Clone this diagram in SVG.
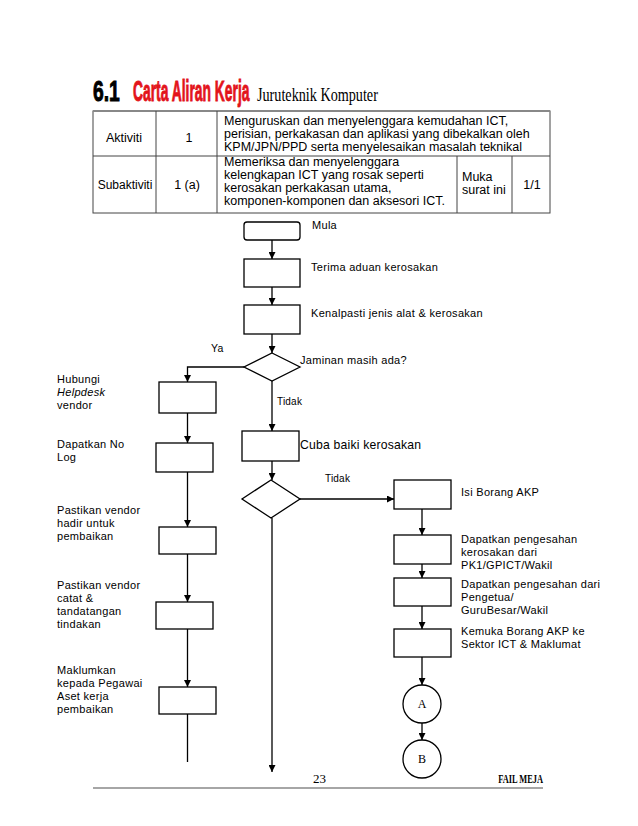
<svg xmlns="http://www.w3.org/2000/svg" width="638" height="826" viewBox="0 0 638 826">
<defs>
<marker id="ah" viewBox="0 0 8 8" refX="8" refY="4" markerWidth="7" markerHeight="7" markerUnits="userSpaceOnUse" orient="auto">
<path d="M0,0 L8,4 L0,8 z" fill="#000"/>
</marker>
<style>
.box{fill:#fff;stroke:#000;stroke-width:1.3}
.ln{fill:none;stroke:#000;stroke-width:1.3}
.arr{fill:none;stroke:#000;stroke-width:1.3;marker-end:url(#ah)}
.t{font-family:"Liberation Sans",Arial,sans-serif;font-size:11px;letter-spacing:0.3px;fill:#000}
.tb{font-family:"Liberation Sans",Arial,sans-serif;font-size:12.5px;fill:#000}
.tbl{fill:none;stroke:#444;stroke-width:1}
.ser{font-family:"Liberation Serif","Times New Roman",serif;fill:#000}
.hd{font-family:"Liberation Sans",Arial,sans-serif;font-weight:bold;font-size:28px;stroke-width:0.9px}
</style>
</defs>
<rect width="638" height="826" fill="#fff"/>

<g id="title">
<text transform="translate(93,101) scale(0.69,1.05)" class="hd" fill="#000" stroke="#000">6.1</text>
<text transform="translate(133,101) scale(0.495,1.05)" class="hd" fill="#e3141b" stroke="#e3141b">Carta Aliran Kerja</text>
<text transform="translate(257,101) scale(0.747,1)" class="ser" font-size="19">Juruteknik Komputer</text>
</g>

<g id="table">
<rect x="93" y="111" width="457" height="102" class="tbl"/>
<line x1="93" y1="111" x2="550" y2="111" stroke="#888" stroke-width="2"/>
<line x1="93" y1="156" x2="550" y2="156" class="tbl"/>
<line x1="156" y1="111" x2="156" y2="213" class="tbl"/>
<line x1="217" y1="111" x2="217" y2="213" class="tbl"/>
<line x1="457" y1="156" x2="457" y2="213" class="tbl"/>
<line x1="512" y1="156" x2="512" y2="213" class="tbl"/>
<text x="124" y="142" class="tb" text-anchor="middle">Aktiviti</text>
<text x="189" y="142" class="tb" text-anchor="middle">1</text>
<text x="224" y="125" class="tb">Menguruskan dan menyelenggara kemudahan ICT,</text>
<text x="224" y="138" class="tb">perisian, perkakasan dan aplikasi yang dibekalkan oleh</text>
<text x="224" y="151" class="tb">KPM/JPN/PPD serta menyelesaikan masalah teknikal</text>
<text x="125" y="189" class="tb" style="font-size:12px" text-anchor="middle">Subaktiviti</text>
<text x="187" y="189" class="tb" text-anchor="middle">1 (a)</text>
<text x="224" y="166" class="tb">Memeriksa dan menyelenggara</text>
<text x="224" y="179" class="tb">kelengkapan ICT yang rosak seperti</text>
<text x="224" y="192" class="tb">kerosakan perkakasan utama,</text>
<text x="224" y="205" class="tb">komponen-komponen dan aksesori ICT.</text>
<text x="462" y="181" class="tb">Muka</text>
<text x="462" y="194" class="tb">surat ini</text>
<text x="532" y="189" class="tb" text-anchor="middle">1/1</text>
</g>

<g id="connectors">
<line x1="272" y1="240" x2="272" y2="259" class="arr"/>
<line x1="272" y1="287" x2="272" y2="305" class="arr"/>
<line x1="272" y1="334" x2="272" y2="353" class="arr"/>
<polyline points="244,367 187.5,367 187.5,382" class="arr"/>
<line x1="272" y1="381" x2="272" y2="431" class="arr"/>
<line x1="272" y1="461" x2="272" y2="480" class="arr"/>
<line x1="272" y1="518" x2="272" y2="772" class="arr"/>
<line x1="300" y1="499" x2="394" y2="499" class="arr"/>
<line x1="187.5" y1="413" x2="187.5" y2="443" class="arr"/>
<line x1="187.5" y1="472" x2="187.5" y2="527" class="arr"/>
<line x1="187.5" y1="554" x2="187.5" y2="602" class="arr"/>
<line x1="187.5" y1="629" x2="187.5" y2="687" class="arr"/>
<line x1="187.5" y1="714" x2="187.5" y2="762" class="ln"/>
<line x1="422" y1="509" x2="422" y2="535" class="arr"/>
<line x1="422" y1="564" x2="422" y2="578" class="arr"/>
<line x1="422" y1="606" x2="422" y2="629" class="arr"/>
<line x1="422" y1="657" x2="422" y2="685" class="arr"/>
<line x1="422" y1="723" x2="422" y2="740" class="arr"/>
<text x="211" y="352" class="t" style="font-size:10.5px">Ya</text>
<text x="277" y="405" class="t" style="font-size:10px;letter-spacing:0.2px">Tidak</text>
<text x="325" y="482" class="t" style="font-size:10px;letter-spacing:0.2px">Tidak</text>
</g>

<g id="mula">
<rect x="244" y="222" width="56" height="18" rx="3" class="box"/>
<text x="312" y="229" class="t">Mula</text>
</g>
<g id="terima">
<rect x="244" y="259" width="56" height="28" class="box"/>
<text x="311" y="271" class="t">Terima aduan kerosakan</text>
</g>
<g id="kenalpasti">
<rect x="244" y="305" width="56" height="29" class="box"/>
<text x="311" y="317" class="t">Kenalpasti jenis alat &amp; kerosakan</text>
</g>
<g id="jaminan">
<polygon points="272,353 300,367 272,381 244,367" class="box"/>
<text x="300" y="364" class="t">Jaminan masih ada?</text>
</g>
<g id="cuba">
<rect x="242" y="431" width="57" height="30" class="box"/>
<text x="300" y="449" class="t" style="font-size:12.2px;letter-spacing:0.2px">Cuba baiki kerosakan</text>
</g>
<g id="keputusan">
<polygon points="271,480 300,499 271,518 242,499" class="box"/>
</g>

<g id="hubungi">
<rect x="159" y="382" width="57" height="31" class="box"/>
<text class="t"><tspan x="57" y="383">Hubungi</tspan><tspan x="57" y="396" font-style="italic">Helpdesk</tspan><tspan x="57" y="409">vendor</tspan></text>
</g>
<g id="nolog">
<rect x="156" y="443" width="57" height="29" class="box"/>
<text class="t"><tspan x="57" y="448">Dapatkan No</tspan><tspan x="57" y="461">Log</tspan></text>
</g>
<g id="hadir">
<rect x="159" y="527" width="57" height="27" class="box"/>
<text class="t"><tspan x="57" y="514">Pastikan vendor</tspan><tspan x="57" y="527">hadir untuk</tspan><tspan x="57" y="540">pembaikan</tspan></text>
</g>
<g id="catat">
<rect x="156" y="602" width="57" height="27" class="box"/>
<text class="t"><tspan x="57" y="589">Pastikan vendor</tspan><tspan x="57" y="602">catat &amp;</tspan><tspan x="57" y="615">tandatangan</tspan><tspan x="57" y="628">tindakan</tspan></text>
</g>
<g id="maklumkan">
<rect x="159" y="687" width="57" height="27" class="box"/>
<text class="t"><tspan x="57" y="674">Maklumkan</tspan><tspan x="57" y="687">kepada Pegawai</tspan><tspan x="57" y="700">Aset kerja</tspan><tspan x="57" y="713">pembaikan</tspan></text>
</g>

<g id="isiborang">
<rect x="394" y="480" width="57" height="29" class="box"/>
<text x="461" y="496" class="t">Isi Borang AKP</text>
</g>
<g id="pengesahan1">
<rect x="394" y="535" width="57" height="29" class="box"/>
<text class="t"><tspan x="461" y="543">Dapatkan pengesahan</tspan><tspan x="461" y="556">kerosakan dari</tspan><tspan x="461" y="569">PK1/GPICT/Wakil</tspan></text>
</g>
<g id="pengesahan2">
<rect x="394" y="578" width="57" height="28" class="box"/>
<text class="t"><tspan x="461" y="588">Dapatkan pengesahan dari</tspan><tspan x="461" y="601">Pengetua/</tspan><tspan x="461" y="614">GuruBesar/Wakil</tspan></text>
</g>
<g id="kemuka">
<rect x="394" y="629" width="57" height="28" class="box"/>
<text class="t"><tspan x="461" y="635">Kemuka Borang AKP ke</tspan><tspan x="461" y="648">Sektor ICT &amp; Maklumat</tspan></text>
</g>
<g id="A">
<circle cx="422" cy="704" r="19" class="box"/>
<text x="422" y="708" class="ser" font-size="12" text-anchor="middle">A</text>
</g>
<g id="B">
<circle cx="422" cy="759" r="19" class="box"/>
<text x="422" y="763" class="ser" font-size="12" text-anchor="middle">B</text>
</g>

<g id="footer">
<line x1="93" y1="788" x2="543" y2="788" stroke="#888" stroke-width="1.5"/>
<text x="313" y="783" class="ser" font-size="13">23</text>
<text transform="translate(543,783) scale(0.7,1)" class="ser" font-size="12" font-weight="bold" text-anchor="end">FAIL MEJA</text>
</g>
</svg>
